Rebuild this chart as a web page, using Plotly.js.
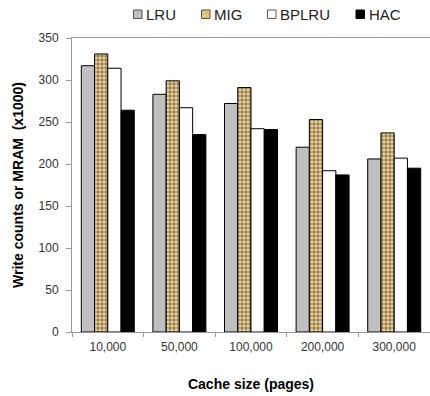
<!DOCTYPE html>
<html>
<head>
<meta charset="utf-8">
<script src="https://cdn.plot.ly/plotly-3.0.1.min.js"></script>
<style>html,body{margin:0;padding:0;background:#fff;}#chart{width:430px;height:396px;}</style>
</head>
<body>
<div id="chart"></div>
<script>
const categories = ["10,000", "50,000", "100,000", "200,000", "300,000"];
const seriesNames = ["LRU", "MIG", "BPLRU", "HAC"];
const lru   = [317, 283, 272, 220, 206];
const mig   = [331, 299, 291, 253, 237];
const bplru = [314, 267, 242, 192, 207];
const hac   = [264, 235, 241, 187, 195];
const yTicks = [0, 50, 100, 150, 200, 250, 300, 350];

const fills   = ['#c0c0c0', '#dcc48e', '#ffffff', '#000000'];
const borders = ['#555555', '#6e4f22', '#555555', '#000000'];

const line = {color: '#000', width: 1};
const traces = [
  {type: 'bar', name: seriesNames[0], x: categories, y: lru,
   marker: {color: fills[0], line: line}},
  {type: 'bar', name: seriesNames[1], x: categories, y: mig,
   marker: {color: fills[1], line: line,
            pattern: {shape: '+', fgcolor: '#6e4f22', bgcolor: '#e6d3a0', size: 4, solidity: 0.35}}},
  {type: 'bar', name: seriesNames[2], x: categories, y: bplru,
   marker: {color: fills[2], line: line}},
  {type: 'bar', name: seriesNames[3], x: categories, y: hac,
   marker: {color: fills[3], line: line}}
];

// custom legend (box + text) laid out in page pixels, converted to paper coords
const W = 430, H = 396, M = {l: 72, r: 0, t: 38, b: 64};
const pw = W - M.l - M.r, ph = H - M.t - M.b;
const px = v => (v - M.l) / pw;
const py = v => (H - M.b - v) / ph;
const legendBoxLeft = [133.5, 201.5, 267.5, 356];
const shapes = [], annotations = [];
seriesNames.forEach((n, i) => {
  const x0 = legendBoxLeft[i];
  shapes.push({type: 'rect', xref: 'paper', yref: 'paper',
    x0: px(x0), x1: px(x0 + 8.5), y0: py(18.5), y1: py(10),
    fillcolor: fills[i], line: {color: borders[i], width: 1}});
  annotations.push({xref: 'paper', yref: 'paper', x: px(x0 + 10.5), y: py(14.5),
    xanchor: 'left', yanchor: 'middle', showarrow: false, text: n,
    font: {size: 15, color: '#222'}});
});

const layout = {
  width: W, height: H,
  margin: M,
  paper_bgcolor: '#fff', plot_bgcolor: '#fff',
  font: {family: 'Liberation Sans, Arial, sans-serif', color: '#222'},
  barmode: 'group', bargap: 0.26, bargroupgap: 0,
  showlegend: false,
  shapes: shapes, annotations: annotations,
  xaxis: {
    type: 'category', showline: true, linecolor: '#999', linewidth: 1, mirror: true,
    ticks: 'outside', tickson: 'boundaries', ticklen: 4, tickcolor: '#999',
    ticklabelstandoff: 4,
    tickfont: {size: 12, color: '#333'}, showgrid: false, zeroline: false,
    title: {text: '<b>Cache size (pages)</b>', font: {size: 14, color: '#000'}, standoff: 25}
  },
  yaxis: {
    range: [0, 350], tickvals: yTicks, showline: true, linecolor: '#999', linewidth: 1,
    ticks: 'outside', ticklen: 5, tickcolor: '#999', showgrid: false, zeroline: false,
    ticklabelstandoff: 5,
    tickfont: {size: 12, color: '#333'},
    title: {text: '<b>Write counts or MRAM  (x1000)</b>', font: {size: 14, color: '#000'}, standoff: 11}
  }
};

Plotly.newPlot('chart', traces, layout, {displayModeBar: false, staticPlot: true});
</script>
</body>
</html>
